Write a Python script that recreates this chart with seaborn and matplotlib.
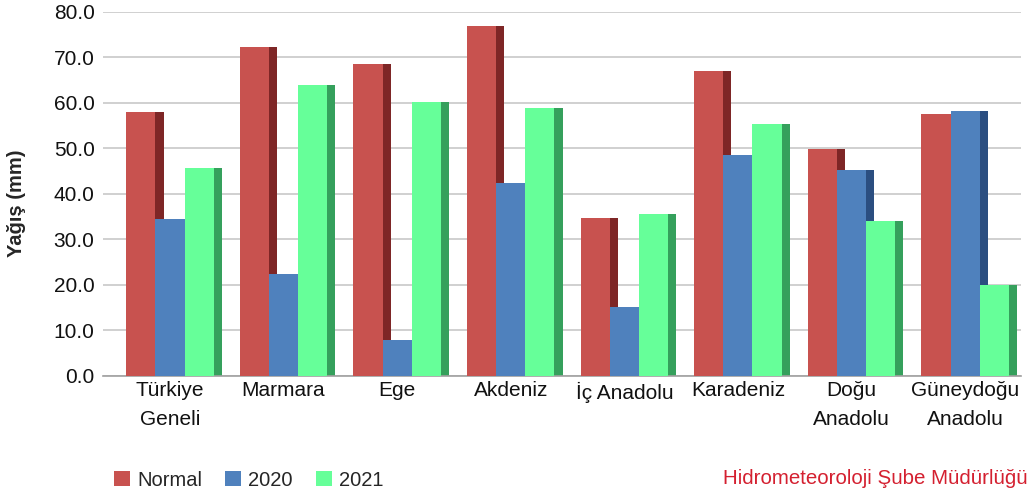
import matplotlib
matplotlib.use("Agg")
import matplotlib.pyplot as plt
import seaborn as sns
import pandas as pd
from matplotlib.patches import Rectangle, Patch
from matplotlib.ticker import FormatStrFormatter

regions = ["Türkiye\nGeneli", "Marmara", "Ege", "Akdeniz", "İç Anadolu",
           "Karadeniz", "Doğu\nAnadolu", "Güneydoğu\nAnadolu"]
normal = [58.0, 72.2, 68.5, 77.0, 34.8, 67.0, 49.8, 57.6]
y2020 = [34.5, 22.3, 7.8, 42.3, 15.1, 48.5, 45.2, 58.2]
y2021 = [45.6, 63.9, 60.3, 58.8, 35.6, 55.3, 34.0, 20.0]
series = ["Normal", "2020", "2021"]

face_colors = ["#C8524F", "#4F81BD", "#66FF99"]
side_colors = ["#7E2626", "#2B4E80", "#35A05C"]

df = pd.DataFrame({
    "Bölge": regions * 3,
    "Seri": [s for s in series for _ in regions],
    "Değer": normal + y2020 + y2021,
})

sns.set_theme(style="white")
plt.rcParams["font.family"] = ["Liberation Sans", "DejaVu Sans"]

fig = plt.figure(figsize=(10.29, 4.94), dpi=100)
ax = fig.add_axes([0.100, 0.239, 0.892, 0.737])

sns.barplot(data=df, x="Bölge", y="Değer", hue="Seri", order=regions,
            hue_order=series, palette=face_colors, width=0.77, gap=0,
            saturation=1, linewidth=0, ax=ax, legend=False, zorder=3)

# pseudo-3D side faces derived from each bar's geometry
for cont, sc in zip(ax.containers, side_colors):
    for p in cont.patches:
        x, w, h = p.get_x(), p.get_width(), p.get_height()
        ax.add_patch(Rectangle((x + w, 0), w * 0.28, h, facecolor=sc,
                               edgecolor="none", zorder=2))

ax.set_ylim(0, 80)
ax.set_xlim(-0.59, 7.49)
ax.set_yticks(range(0, 81, 10))
ax.yaxis.set_major_formatter(FormatStrFormatter("%.1f"))
ax.grid(axis="y", color="#C8C8C8", linewidth=1.2, zorder=0)
ax.set_axisbelow(True)
for s in ["top", "right", "left"]:
    ax.spines[s].set_visible(False)
ax.spines["bottom"].set_color("#A0A0A0")
ax.spines["bottom"].set_linewidth(1.2)
ax.tick_params(axis="y", labelsize=15, length=0, pad=6, colors="#111111")
ax.tick_params(axis="x", labelsize=15, length=0, pad=4, colors="#111111")
for t in ax.get_xticklabels():
    t.set_linespacing(1.62)
ax.set_xlabel("")
ax.set_ylabel("Yağış (mm)", fontsize=14.5, fontweight="bold")
ax.yaxis.set_label_coords(-0.084, 0.473)

handles = [Patch(facecolor=c, edgecolor="none") for c in face_colors]
fig.legend(handles, series, loc="lower left", bbox_to_anchor=(0.093, -0.028),
           ncol=3, frameon=False, fontsize=14.5, handlelength=0.8,
           handleheight=0.8, handletextpad=0.35, columnspacing=1.15)

fig.text(0.999, 0.032, "Hidrometeoroloji Şube Müdürlüğü", color="#D42030",
         fontsize=14.8, ha="right", va="center")

fig.savefig("out.png", dpi=100)
